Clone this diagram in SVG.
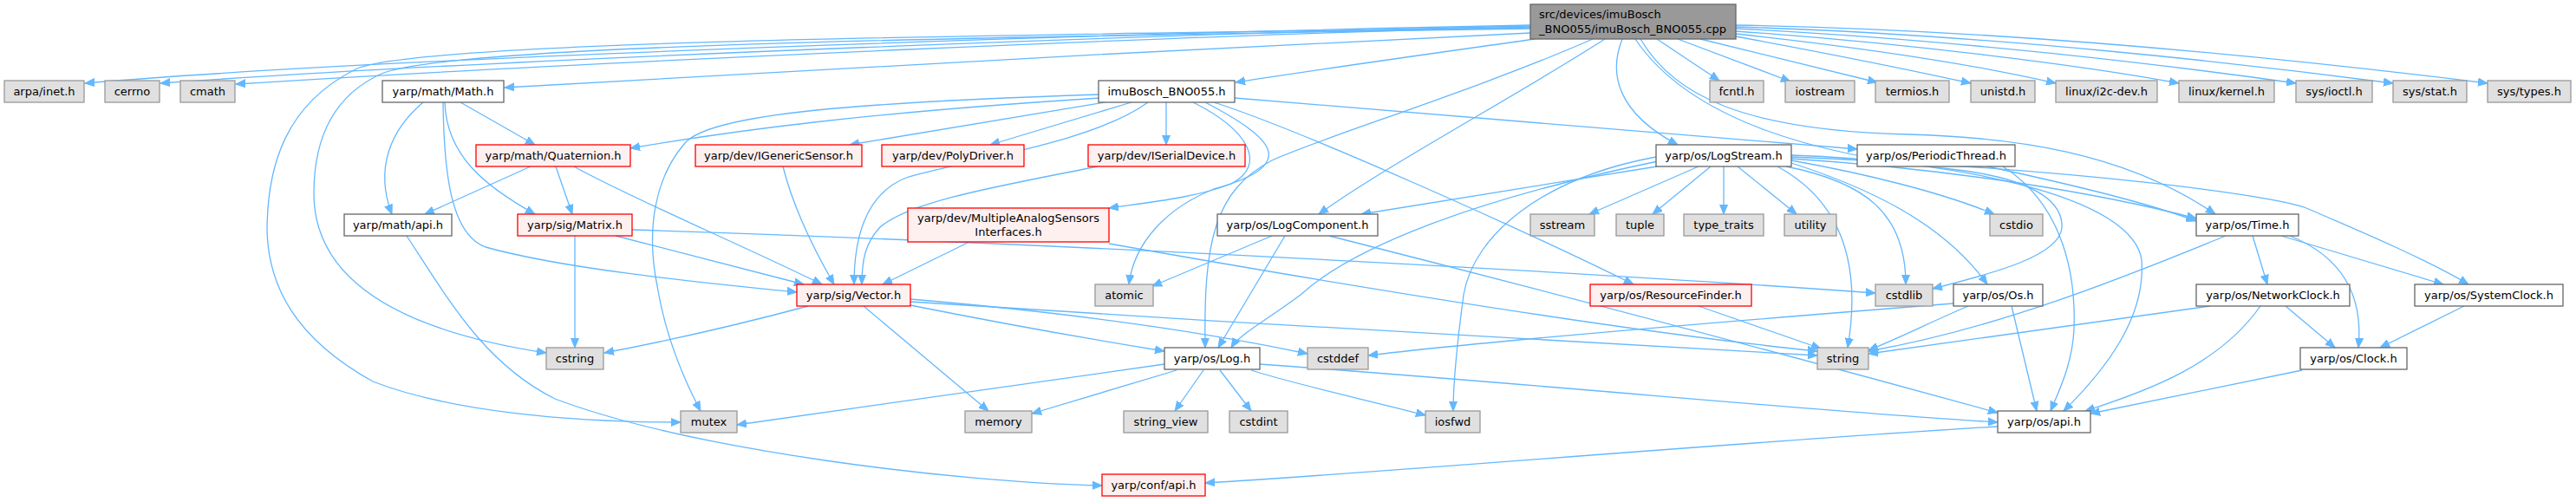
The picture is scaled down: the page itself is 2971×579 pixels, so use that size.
<svg xmlns="http://www.w3.org/2000/svg" width="2971" height="579" viewBox="0 0 2971 579">
<style>
text{font-family:"DejaVu Sans","Liberation Sans",sans-serif;font-size:13px;fill:#000;text-anchor:middle}
.g rect{fill:#e0e0e0;stroke:#999999;stroke-width:1.3}
.w rect{fill:#ffffff;stroke:#666666;stroke-width:1.3}
.r rect{fill:#fff0f0;stroke:#ff0000;stroke-width:1.3}
.root rect{fill:#999999;stroke:#666666;stroke-width:1.3}
#edges path{fill:none;stroke:#63b8ff;stroke-width:1.3;marker-end:url(#a)}
</style>
<defs>
<marker id="a" markerWidth="12" markerHeight="10" refX="11" refY="5" orient="auto" markerUnits="userSpaceOnUse"><path d="M0,0.5 L11,5 L0,9.5 z" fill="#63b8ff" stroke="#63b8ff"/></marker>
</defs>
<rect width="2971" height="579" fill="#ffffff"/>
<g id="edges">
<path d="M1765,29 C1400,36 500,62 98,96"/>
<path d="M1765,30 C1400,38 600,66 185,96"/>
<path d="M1765,31 C1400,40 700,70 272,97"/>
<path d="M1765,38 C1400,55 900,82 582,101"/>
<path d="M1770,45 C1650,62 1520,80 1425,95"/>
<path d="M1765,33 C1200,42 520,50 440,85 C385,110 362,160 362,223 C362,300 420,375 630,407"/>
<path d="M1765,32 C1200,40 480,46 410,80 C330,120 308,190 308,267 C310,330 340,390 430,440 C520,475 660,487 785,487"/>
<path d="M1911,45 L1983,93"/>
<path d="M1935,45 L2065,94"/>
<path d="M1961,45 L2165,95"/>
<path d="M2002,42 C2100,60 2200,80 2273,96"/>
<path d="M2002,39 C2150,55 2280,75 2371,96"/>
<path d="M2002,36 C2200,50 2400,75 2513,96"/>
<path d="M2002,33 C2250,45 2500,75 2648,96"/>
<path d="M2002,31 C2300,40 2600,75 2760,96"/>
<path d="M2002,29 C2350,35 2700,75 2869,96"/>
<path d="M1871,45 C1855,85 1865,130 1935,167"/>
<path d="M1851,45 C1750,110 1600,190 1521,247"/>
<path d="M1892,45 C1930,110 2010,150 2200,155 C2320,158 2450,175 2555,247"/>
<path d="M1837,45 C1700,105 1520,160 1467,185 C1400,220 1388,280 1390,401"/>
<path d="M1886,45 C1950,140 2100,180 2250,195 C2340,205 2380,230 2378,263 C2375,295 2300,315 2229,333"/>
<path d="M1269,113 C1000,130 850,150 727,171"/>
<path d="M1267,109 C1000,118 820,130 790,165 C755,205 745,265 758,330 C768,390 790,440 808,474"/>
<path d="M1274,118 L980,167"/>
<path d="M1305,118 L1142,167"/>
<path d="M1345,118 L1345,167"/>
<path d="M1324,118 C1260,165 1110,185 1045,205 C995,225 985,280 985,328"/>
<path d="M1376,118 C1440,150 1462,190 1420,212 C1380,228 1320,234 1279,240"/>
<path d="M1390,118 C1470,160 1500,190 1400,218 C1345,240 1308,280 1302,328"/>
<path d="M1424,113 C1700,135 1950,155 2142,172"/>
<path d="M1400,118 C1500,150 1750,262 1884,328"/>
<path d="M488,118 C450,150 432,195 452,247"/>
<path d="M531,118 L617,167"/>
<path d="M513,118 C515,180 560,215 617,247"/>
<path d="M511,118 C512,200 520,270 560,285 C650,310 800,325 919,337"/>
<path d="M612,192 L490,247"/>
<path d="M641,192 L660,247"/>
<path d="M662,192 C720,225 850,280 948,328"/>
<path d="M469,272 C520,350 560,420 640,460 C800,520 1100,556 1271,560"/>
<path d="M663,272 L663,401"/>
<path d="M710,272 L927,328"/>
<path d="M729,265 C1200,280 1800,312 2163,338"/>
<path d="M903,192 C915,240 940,290 962,328"/>
<path d="M1266,192 C1150,215 1050,232 1015,262 C998,280 994,300 994,328"/>
<path d="M1118,279 L1018,328"/>
<path d="M1279,281 C1500,320 1850,380 2096,405"/>
<path d="M932,353 C850,375 760,395 697,407"/>
<path d="M996,353 L1140,474"/>
<path d="M1050,352 C1150,372 1250,390 1343,405"/>
<path d="M1050,345 C1250,362 1400,385 1508,408"/>
<path d="M1050,348 C1400,372 1800,392 2096,410"/>
<path d="M1467,272 L1329,330"/>
<path d="M1482,272 L1405,401"/>
<path d="M1533,272 C1800,340 2100,420 2304,476"/>
<path d="M1911,192 L1570,247"/>
<path d="M1912,186 C1700,230 1560,285 1500,340 C1460,370 1430,385 1420,401"/>
<path d="M1910,181 C1780,205 1700,270 1688,340 C1680,400 1676,440 1676,474"/>
<path d="M1959,192 L1833,247"/>
<path d="M1973,192 L1906,247"/>
<path d="M1988,192 L1988,247"/>
<path d="M2004,192 L2072,247"/>
<path d="M2060,192 C2150,210 2198,245 2198,328"/>
<path d="M2050,192 C2120,230 2148,300 2131,401"/>
<path d="M2066,185 C2150,200 2240,222 2300,247"/>
<path d="M2066,188 C2150,215 2240,255 2292,328"/>
<path d="M2066,183 C2250,195 2420,222 2533,252"/>
<path d="M2066,181 C2400,195 2620,225 2660,240 C2730,270 2800,300 2847,328"/>
<path d="M2066,179 C2250,185 2460,225 2470,300 C2475,365 2430,425 2380,474"/>
<path d="M2292,192 C2400,215 2480,235 2533,255"/>
<path d="M2310,192 C2370,230 2395,300 2392,380 C2390,420 2375,450 2365,474"/>
<path d="M2567,272 C2450,320 2300,380 2155,405"/>
<path d="M2598,272 L2615,328"/>
<path d="M2631,272 L2818,328"/>
<path d="M2641,272 C2710,300 2725,350 2720,401"/>
<path d="M2549,353 C2400,375 2250,395 2155,408"/>
<path d="M2636,353 L2693,401"/>
<path d="M2607,353 C2560,420 2480,450 2405,474"/>
<path d="M2842,353 L2745,401"/>
<path d="M2655,427 L2411,477"/>
<path d="M2253,350 C2000,370 1700,395 1578,410"/>
<path d="M2270,353 C2230,370 2190,390 2155,404"/>
<path d="M2320,353 L2349,474"/>
<path d="M1343,420 L850,490"/>
<path d="M1357,427 L1190,477"/>
<path d="M1388,427 L1355,474"/>
<path d="M1407,427 L1443,474"/>
<path d="M1443,427 C1500,445 1580,462 1644,479"/>
<path d="M1453,420 C1800,445 2100,475 2304,487"/>
<path d="M1959,353 L2100,402"/>
<path d="M2304,492 C2000,510 1600,545 1390,557"/>
</g>
<g id="n_root" class="root"><rect x="1765" y="5" width="237" height="40"/><text x="1775" y="21" style="text-anchor:start">src/devices/imuBosch</text><text x="1775" y="38" style="text-anchor:start">_BNO055/imuBosch_BNO055.cpp</text></g>
<g id="n_arpa" class="g"><rect x="5" y="93" width="92" height="25"/><text x="51" y="110">arpa/inet.h</text></g>
<g id="n_cerrno" class="g"><rect x="121" y="93" width="63" height="25"/><text x="152.5" y="110">cerrno</text></g>
<g id="n_cmath" class="g"><rect x="208" y="93" width="63" height="25"/><text x="239.5" y="110">cmath</text></g>
<g id="n_math" class="w"><rect x="441" y="93" width="140" height="25"/><text x="511" y="110">yarp/math/Math.h</text></g>
<g id="n_imu" class="w"><rect x="1267" y="93" width="157" height="25"/><text x="1345.5" y="110">imuBosch_BNO055.h</text></g>
<g id="n_fcntl" class="g"><rect x="1972" y="93" width="62" height="25"/><text x="2003" y="110">fcntl.h</text></g>
<g id="n_iostream" class="g"><rect x="2059" y="93" width="80" height="25"/><text x="2099" y="110">iostream</text></g>
<g id="n_termios" class="g"><rect x="2163" y="93" width="85" height="25"/><text x="2205.5" y="110">termios.h</text></g>
<g id="n_unistd" class="g"><rect x="2273" y="93" width="74" height="25"/><text x="2310" y="110">unistd.h</text></g>
<g id="n_i2c" class="g"><rect x="2371" y="93" width="117" height="25"/><text x="2429.5" y="110">linux/i2c-dev.h</text></g>
<g id="n_kernel" class="g"><rect x="2513" y="93" width="110" height="25"/><text x="2568" y="110">linux/kernel.h</text></g>
<g id="n_ioctl" class="g"><rect x="2648" y="93" width="88" height="25"/><text x="2692" y="110">sys/ioctl.h</text></g>
<g id="n_stat" class="g"><rect x="2760" y="93" width="85" height="25"/><text x="2802.5" y="110">sys/stat.h</text></g>
<g id="n_types" class="g"><rect x="2869" y="93" width="96" height="25"/><text x="2917" y="110">sys/types.h</text></g>
<g id="n_quat" class="r"><rect x="549" y="167" width="178" height="25"/><text x="638" y="184">yarp/math/Quaternion.h</text></g>
<g id="n_igs" class="r"><rect x="802" y="167" width="192" height="25"/><text x="898" y="184">yarp/dev/IGenericSensor.h</text></g>
<g id="n_poly" class="r"><rect x="1017" y="167" width="164" height="25"/><text x="1099" y="184">yarp/dev/PolyDriver.h</text></g>
<g id="n_iser" class="r"><rect x="1255" y="167" width="181" height="25"/><text x="1345.5" y="184">yarp/dev/ISerialDevice.h</text></g>
<g id="n_logstream" class="w"><rect x="1910" y="167" width="156" height="25"/><text x="1988" y="184">yarp/os/LogStream.h</text></g>
<g id="n_periodic" class="w"><rect x="2142" y="167" width="182" height="25"/><text x="2233" y="184">yarp/os/PeriodicThread.h</text></g>
<g id="n_mathapi" class="w"><rect x="397" y="247" width="124" height="25"/><text x="459" y="264">yarp/math/api.h</text></g>
<g id="n_matrix" class="r"><rect x="597" y="247" width="132" height="25"/><text x="663" y="264">yarp/sig/Matrix.h</text></g>
<g id="n_masi" class="r"><rect x="1047" y="240" width="232" height="39"/><text x="1163" y="256">yarp/dev/MultipleAnalogSensors</text><text x="1163" y="272">Interfaces.h</text></g>
<g id="n_logcomp" class="w"><rect x="1404" y="247" width="185" height="25"/><text x="1496.5" y="264">yarp/os/LogComponent.h</text></g>
<g id="n_sstream" class="g"><rect x="1765" y="247" width="74" height="25"/><text x="1802" y="264">sstream</text></g>
<g id="n_tuple" class="g"><rect x="1864" y="247" width="55" height="25"/><text x="1891.5" y="264">tuple</text></g>
<g id="n_typetraits" class="g"><rect x="1942" y="247" width="92" height="25"/><text x="1988" y="264">type_traits</text></g>
<g id="n_utility" class="g"><rect x="2058" y="247" width="60" height="25"/><text x="2088" y="264">utility</text></g>
<g id="n_cstdio" class="g"><rect x="2295" y="247" width="61" height="25"/><text x="2325.5" y="264">cstdio</text></g>
<g id="n_time" class="w"><rect x="2533" y="247" width="118" height="25"/><text x="2592" y="264">yarp/os/Time.h</text></g>
<g id="n_vector" class="r"><rect x="919" y="328" width="131" height="25"/><text x="984.5" y="345">yarp/sig/Vector.h</text></g>
<g id="n_atomic" class="g"><rect x="1263" y="328" width="67" height="25"/><text x="1296.5" y="345">atomic</text></g>
<g id="n_rf" class="r"><rect x="1834" y="328" width="186" height="25"/><text x="1927" y="345">yarp/os/ResourceFinder.h</text></g>
<g id="n_cstdlib" class="g"><rect x="2163" y="328" width="66" height="25"/><text x="2196" y="345">cstdlib</text></g>
<g id="n_os" class="w"><rect x="2253" y="328" width="103" height="25"/><text x="2304.5" y="345">yarp/os/Os.h</text></g>
<g id="n_netclock" class="w"><rect x="2533" y="328" width="177" height="25"/><text x="2621.5" y="345">yarp/os/NetworkClock.h</text></g>
<g id="n_sysclock" class="w"><rect x="2785" y="328" width="171" height="25"/><text x="2870.5" y="345">yarp/os/SystemClock.h</text></g>
<g id="n_cstring" class="g"><rect x="630" y="401" width="66" height="25"/><text x="663" y="418">cstring</text></g>
<g id="n_log" class="w"><rect x="1343" y="401" width="110" height="25"/><text x="1398" y="418">yarp/os/Log.h</text></g>
<g id="n_cstddef" class="g"><rect x="1508" y="401" width="70" height="25"/><text x="1543" y="418">cstddef</text></g>
<g id="n_string" class="g"><rect x="2096" y="401" width="59" height="25"/><text x="2125.5" y="418">string</text></g>
<g id="n_clock" class="w"><rect x="2653" y="401" width="123" height="25"/><text x="2714.5" y="418">yarp/os/Clock.h</text></g>
<g id="n_mutex" class="g"><rect x="785" y="474" width="65" height="25"/><text x="817.5" y="491">mutex</text></g>
<g id="n_memory" class="g"><rect x="1113" y="474" width="77" height="25"/><text x="1151.5" y="491">memory</text></g>
<g id="n_stringview" class="g"><rect x="1296" y="474" width="97" height="25"/><text x="1344.5" y="491">string_view</text></g>
<g id="n_cstdint" class="g"><rect x="1418" y="474" width="67" height="25"/><text x="1451.5" y="491">cstdint</text></g>
<g id="n_iosfwd" class="g"><rect x="1644" y="474" width="63" height="25"/><text x="1675.5" y="491">iosfwd</text></g>
<g id="n_osapi" class="w"><rect x="2304" y="474" width="107" height="25"/><text x="2357.5" y="491">yarp/os/api.h</text></g>
<g id="n_confapi" class="r"><rect x="1271" y="547" width="119" height="25"/><text x="1330.5" y="564">yarp/conf/api.h</text></g>
</svg>
